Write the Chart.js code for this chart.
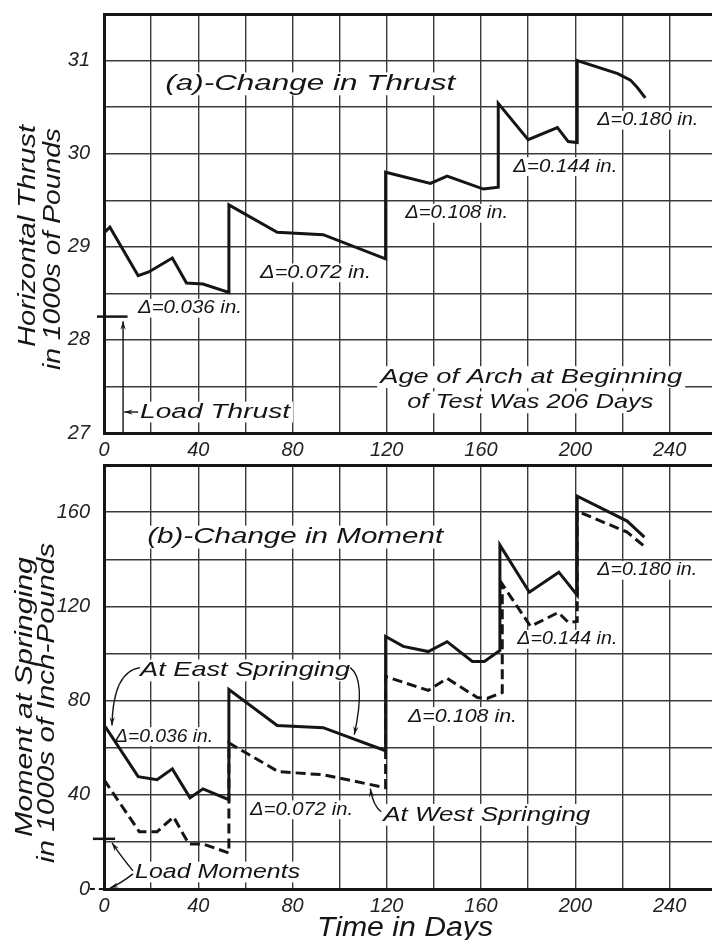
<!DOCTYPE html>
<html>
<head>
<meta charset="utf-8">
<script src="https://cdn.jsdelivr.net/npm/chart.js@4.4.1/dist/chart.umd.min.js"></script>
<style>
  html, body { margin: 0; background: #fff; }
  #wrap { position: relative; width: 712px; height: 940px; overflow: hidden; }
  #wrap canvas { position: absolute; left: 0; }
  #thrust { top: 0; }
  #moment { top: 450px; }
</style>
</head>
<body>
<div id="wrap">
  <canvas id="thrust" width="712" height="470"></canvas>
  <canvas id="moment" width="712" height="490"></canvas>
</div>
<script>
// ---- data (days after start of test) ----
const thrustDays = [0, 2.5, 14.5, 19, 29, 35, 42, 53, 53, 73.5, 93, 119.5, 119.5, 138.5, 145.6, 161, 167.3, 167.3, 180, 192.4, 197, 200.8, 200.8, 218, 223.4, 226.3, 229.7];
const thrustKips = [29.15, 29.21, 28.69, 28.73, 28.88, 28.61, 28.60, 28.51, 29.45, 29.155, 29.13, 28.87, 29.80, 29.68, 29.76, 29.62, 29.64, 30.54, 30.15, 30.28, 30.13, 30.12, 31.0, 30.86, 30.79, 30.71, 30.60];

const eastDays = [0.5, 14.5, 22.5, 29, 36.5, 42, 53, 53, 73.5, 93, 119.5, 119.5, 127, 137.6, 145.6, 156.3, 161.4, 168, 168, 180.5, 193, 200.8, 200.8, 222, 229.3];
const eastMoment = [69, 47.7, 46.4, 51, 38.7, 42.5, 37.9, 84.7, 69.4, 68.5, 58.7, 107.2, 103, 100.8, 105, 96.6, 96.6, 101.3, 146, 126, 134.5, 124.7, 166.8, 156.2, 149.4];

const westDays = [0, 15, 22.5, 29.5, 36, 42, 53, 53, 74, 93, 119.5, 119.5, 137.6, 145.6, 158.4, 162.6, 169, 169, 181, 192.8, 197, 200.8, 200.8, 222, 229.3];
const westMoment = [46.4, 24.3, 24.3, 30.6, 19.1, 19.1, 15.3, 62, 49.8, 48.5, 43, 90.2, 84.3, 89.4, 81.3, 80.9, 83.4, 129.4, 111.5, 117.4, 113.2, 113.6, 160.4, 151.5, 145.5];

const loadThrust = 28.25;
const loadMomentEast = 21.3;
const loadMomentWest = 0;
const loadThrustSpan = [-3, 10];
const loadEastSpan = [-4.7, 4.7];
const loadWestSpan = [-6, 1];

const FONT = '"Liberation Sans", "DejaVu Sans", sans-serif';
const INK = '#151515';
const GRID = '#3a3a3a';

// notes placed in data coordinates (day, value)
const thrustNotes = [
  { text: '(a)-Change in Thrust', day: 26, val: 30.75, size: 22, width: 290 },
  { text: 'Δ=0.036 in.', day: 14.4, val: 28.34, size: 18, width: 104 },
  { text: 'Δ=0.072 in.', day: 66.2, val: 28.72, size: 18, width: 111 },
  { text: 'Δ=0.108 in.', day: 127.8, val: 29.36, size: 18, width: 103 },
  { text: 'Δ=0.144 in.', day: 173.7, val: 29.86, size: 18, width: 104 },
  { text: 'Δ=0.180 in.', day: 209.3, val: 30.36, size: 18, width: 101 },
  { text: 'Age of Arch at Beginning', day: 117.2, val: 27.6, size: 21, width: 302 },
  { text: 'of Test Was 206 Days', day: 128.7, val: 27.33, size: 21, width: 246 },
  { text: 'Load Thrust', day: 15.3, val: 27.225, size: 20, width: 150 }
];
const thrustArrows = [
  [[8.1, 27], [8.1, 27.6], [8.1, 28.2]],
  [[14.5, 27.225], [11.5, 27.225], [8.6, 27.225]]
];
const thrustTitles = [
  { text: 'Horizontal Thrust', x: 35, y: 236, len: 222, size: 23 },
  { text: 'in 1000s of Pounds', x: 60, y: 249, len: 242, size: 23 }
];

const momentNotes = [
  { text: '(b)-Change in Moment', day: 18.3, val: 149.4, size: 22, width: 296 },
  { text: 'At East Springing', day: 15.3, val: 92.8, size: 21, width: 210 },
  { text: 'Δ=0.036 in.', day: 4.7, val: 64.7, size: 18, width: 98 },
  { text: 'Δ=0.072 in.', day: 62, val: 33.6, size: 18, width: 103 },
  { text: 'At West Springing', day: 118.5, val: 31.5, size: 21, width: 207 },
  { text: 'Δ=0.108 in.', day: 129, val: 73.2, size: 18, width: 109 },
  { text: 'Δ=0.144 in.', day: 175.4, val: 106, size: 18, width: 100 },
  { text: 'Δ=0.180 in.', day: 209.3, val: 135.3, size: 18, width: 100 },
  { text: 'Load Moments', day: 13.2, val: 7.2, size: 20, width: 165 }
];
const momentArrows = [
  [[15.3, 94.0], [3.8, 92.3], [3.4, 69.4]],
  [[104.5, 94.0], [111.3, 88.9], [106.2, 65.5]],
  [[117.6, 32.8], [114.2, 35.3], [113, 42.6]],
  [[12.3, 7.7], [6.8, 14.5], [3.4, 19.6]],
  [[12.3, 6.4], [6.8, 2.1], [2.5, 0.4]]
];
const momentTitles = [
  { text: 'Moment at Springing', x: 32, y: 247, len: 280, size: 23 },
  { text: 'in 1000s of Inch-Pounds', x: 54, y: 253, len: 320, size: 23 }
];

function pts(days, vals) {
  return days.map((d, i) => ({ x: d, y: vals[i] }));
}

function fitText(ctx, text, x, y, size, width, bg) {
  ctx.save();
  ctx.font = `italic ${size}px ${FONT}`;
  ctx.textBaseline = 'middle';
  ctx.textAlign = 'left';
  const w = ctx.measureText(text).width;
  if (bg) {
    ctx.fillStyle = '#fff';
    ctx.fillRect(x - 3, y - size * 0.52, width + 6, size * 1.04);
  }
  ctx.translate(x, y);
  ctx.scale(width / w, 1);
  ctx.fillStyle = INK;
  ctx.fillText(text, 0, 0);
  ctx.restore();
}

function drawArrow(ctx, p0, c, p2) {
  ctx.save();
  ctx.strokeStyle = INK;
  ctx.fillStyle = INK;
  ctx.lineWidth = 1.4;
  ctx.beginPath();
  ctx.moveTo(p0[0], p0[1]);
  ctx.quadraticCurveTo(c[0], c[1], p2[0], p2[1]);
  ctx.stroke();
  const a = Math.atan2(p2[1] - c[1], p2[0] - c[0]);
  const L = 9, s = 0.3;
  ctx.beginPath();
  ctx.moveTo(p2[0], p2[1]);
  ctx.lineTo(p2[0] - L * Math.cos(a - s), p2[1] - L * Math.sin(a - s));
  ctx.lineTo(p2[0] - L * 0.6 * Math.cos(a), p2[1] - L * 0.6 * Math.sin(a));
  ctx.lineTo(p2[0] - L * Math.cos(a + s), p2[1] - L * Math.sin(a + s));
  ctx.closePath();
  ctx.fill();
  ctx.restore();
}

function notesPlugin(notes, arrows, titles, extra) {
  return {
    id: 'notes',
    beforeDatasetsDraw(chart) {
      const { ctx, scales: { x, y } } = chart;
      notes.forEach(n => {
        fitText(ctx, n.text, x.getPixelForValue(n.day), y.getPixelForValue(n.val), n.size, n.width, true);
      });
    },
    afterDatasetsDraw(chart) {
      const { ctx, scales: { x, y } } = chart;
      arrows.forEach(a => {
        const p = a.map(q => [x.getPixelForValue(q[0]), y.getPixelForValue(q[1])]);
        drawArrow(ctx, p[0], p[1], p[2]);
      });
      titles.forEach(t => {
        ctx.save();
        ctx.font = `italic ${t.size}px ${FONT}`;
        ctx.textAlign = 'center';
        ctx.textBaseline = 'alphabetic';
        const w = ctx.measureText(t.text).width;
        ctx.translate(t.x, t.y);
        ctx.rotate(-Math.PI / 2);
        ctx.scale(t.len / w, 1);
        ctx.fillStyle = INK;
        ctx.fillText(t.text, 0, 0);
        ctx.restore();
      });
      if (extra) extra(chart);
    }
  };
}

function makeScales(yMin, yMax, yStep, yLabel, xHeight) {
  return {
    x: {
      type: 'linear', min: 0, max: 258,
      border: { display: true, color: INK, width: 3 },
      grid: { color: GRID, lineWidth: 1.4, drawTicks: false },
      ticks: {
        stepSize: 20, includeBounds: false, autoSkip: false, maxRotation: 0, maxTicksLimit: 30,
        padding: 5, color: '#222',
        font: { family: FONT, size: 20, style: 'italic' },
        callback: v => (v % 40 === 0 ? v : '')
      },
      afterFit: s => { s.height = xHeight; s.paddingLeft = 0; s.paddingRight = 0; }
    },
    y: {
      type: 'linear', min: yMin, max: yMax,
      border: { display: true, color: INK, width: 3 },
      grid: {
        color: c => (c.tick && c.tick.value === yMax ? INK : GRID),
        lineWidth: c => (c.tick && c.tick.value === yMax ? 3 : 1.4),
        drawTicks: false
      },
      ticks: {
        stepSize: yStep, autoSkip: false, maxTicksLimit: 30, padding: 14, color: '#222',
        font: { family: FONT, size: 20, style: 'italic' },
        callback: yLabel
      },
      afterFit: s => { s.width = 104; s.paddingTop = 0; s.paddingBottom = 0; }
    }
  };
}

const lineStyle = { borderColor: INK, backgroundColor: INK, borderWidth: 3, pointRadius: 0, tension: 0, fill: false };

new Chart(document.getElementById('thrust'), {
  type: 'line',
  data: {
    datasets: [
      { ...lineStyle, data: pts(thrustDays, thrustKips) },
      { ...lineStyle, borderWidth: 2.5, clip: false,
        data: pts(loadThrustSpan, [loadThrust, loadThrust]) }
    ]
  },
  options: {
    responsive: false,
    animation: false,
    layout: { padding: { top: 14, right: 0, left: 0, bottom: 0 } },
    plugins: { legend: { display: false }, tooltip: { enabled: false } },
    scales: makeScales(27, 31.5, 0.5, v => (Number.isInteger(v) ? v : ''), 37)
  },
  plugins: [notesPlugin(thrustNotes, thrustArrows, thrustTitles)]
});

new Chart(document.getElementById('moment'), {
  type: 'line',
  data: {
    datasets: [
      { ...lineStyle, data: pts(eastDays, eastMoment) },
      { ...lineStyle, borderDash: [10, 5], data: pts(westDays, westMoment) },
      { ...lineStyle, borderWidth: 2.5, clip: false,
        data: pts(loadEastSpan, [loadMomentEast, loadMomentEast]) },
      { ...lineStyle, borderWidth: 2, borderDash: [5, 4], clip: false,
        data: pts(loadWestSpan, [loadMomentWest, loadMomentWest]) }
    ]
  },
  options: {
    responsive: false,
    animation: false,
    layout: { padding: { top: 15, right: 0, left: 0, bottom: 0 } },
    plugins: { legend: { display: false }, tooltip: { enabled: false } },
    scales: makeScales(0, 180, 20, v => (v % 40 === 0 ? v : ''), 51)
  },
  plugins: [notesPlugin(momentNotes, momentArrows, momentTitles, chart => {
    // x axis title under the tick labels
    const { ctx, chartArea, scales: { x } } = chart;
    fitText(ctx, 'Time in Days', x.getPixelForValue(90.4), chartArea.bottom + 39, 27, 176, false);
  })]
});
</script>
</body>
</html>
